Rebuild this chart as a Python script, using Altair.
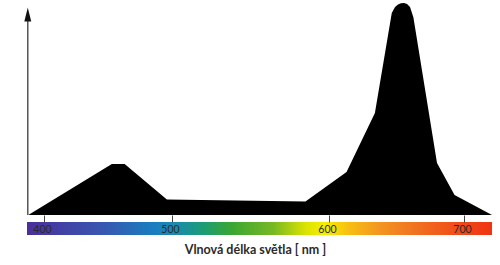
import altair as alt
import pandas as pd

# Spectrum curve (wavelength in nm, relative intensity)
wavelength_nm = [388, 453, 463, 496, 585, 613, 634, 646.5, 648.9, 651.1, 653.3, 655.6, 657.8, 660, 662.5, 680, 693, 722]
intensity = [0, 23.7, 23.7, 7.2, 6.3, 20.0, 47.4, 94.0, 96.7, 97.9, 98.5, 98.6, 98.1, 96.7, 92.0, 24.2, 9.3, 0]

tick_values = [400, 500, 600, 700]
axis_title = "Vlnová délka světla [ nm ]"

# visible wavelength band
band_start_nm = 387
band_end_nm = 722
band_offsets = [0.0, 0.037, 0.157, 0.27, 0.312, 0.38, 0.44, 0.53, 0.60, 0.64, 0.69, 0.76, 0.84, 0.93, 1.0]
band_colors = ["#4b2f98", "#4538a0", "#3a55b0", "#1a7cc0", "#1889b4", "#1c9c74", "#3aa632",
               "#78b824", "#dce400", "#f6ee00", "#f8c012", "#f39420", "#f07020", "#f04a18", "#ef3312"]

# scale anchors (nm -> px of the printed, slightly uneven axis)
scale_nm = [387, 400, 500, 600, 700, 722]
scale_px = [0, 17, 145, 302, 437, 465]

curve = pd.DataFrame({"nm": wavelength_nm, "value": intensity})

x_scale = alt.Scale(domain=scale_nm, range=scale_px, nice=False, zero=False)
y_scale = alt.Scale(domain=[0, 100], nice=False, zero=True)

x_axis = alt.Axis(
    values=tick_values, domain=False, grid=False,
    tickSize=7, tickColor="#444", tickWidth=1,
    labelFont="Lato", labelFontSize=10.5, labelColor="#2a2a2a",
    labelBaseline="middle", labelPadding=7.5, labelOffset=-2,
    title=axis_title, titleFont="Lato", titleFontSize=12.5, titleFontWeight="bold",
    titleColor="#2a2a2a", titleX=228, titleY=34, titleAlign="center",
    titleBaseline="middle", titleAnchor="middle", zindex=2,
)

area = alt.Chart(curve).mark_area(color="#000000", interpolate="linear").encode(
    x=alt.X("nm:Q", scale=x_scale, axis=x_axis),
    y=alt.Y("value:Q", scale=y_scale, axis=None),
)

band = alt.Chart(pd.DataFrame({"a": [band_start_nm], "b": [band_end_nm]})).mark_rect(
    fill=alt.LinearGradient(
        gradient="linear", x1=0, x2=1, y1=0, y2=0,
        stops=[alt.GradientStop(offset=o, color=c) for o, c in zip(band_offsets, band_colors)],
    )
).encode(
    x=alt.X("a:Q", scale=x_scale),
    x2="b:Q",
    y=alt.value(222),
    y2=alt.value(235),
)

yaxis_line = alt.Chart(pd.DataFrame({"x": [387.6], "y0": [0], "y1": [92]})).mark_rule(
    color="#555555", strokeWidth=1.5
).encode(
    x=alt.X("x:Q", scale=x_scale),
    y=alt.Y("y0:Q", scale=y_scale),
    y2="y1:Q",
)

arrow = alt.Chart(pd.DataFrame({"x": [387.6], "y": [93.3]})).mark_point(
    shape="M0,-1L0.5,1L-0.5,1Z", size=196, filled=True, color="#111111", opacity=1
).encode(
    x=alt.X("x:Q", scale=x_scale),
    y=alt.Y("y:Q", scale=y_scale),
)

chart = alt.layer(band, area, yaxis_line, arrow).properties(
    width=465, height=215,
    autosize=alt.AutoSizeParams(type="none"),
    padding={"left": 27, "top": 0, "right": 8, "bottom": 50},
    background="white",
).configure_view(stroke=None)

chart.save("out.html", embed_options={"renderer": "svg", "actions": False})
